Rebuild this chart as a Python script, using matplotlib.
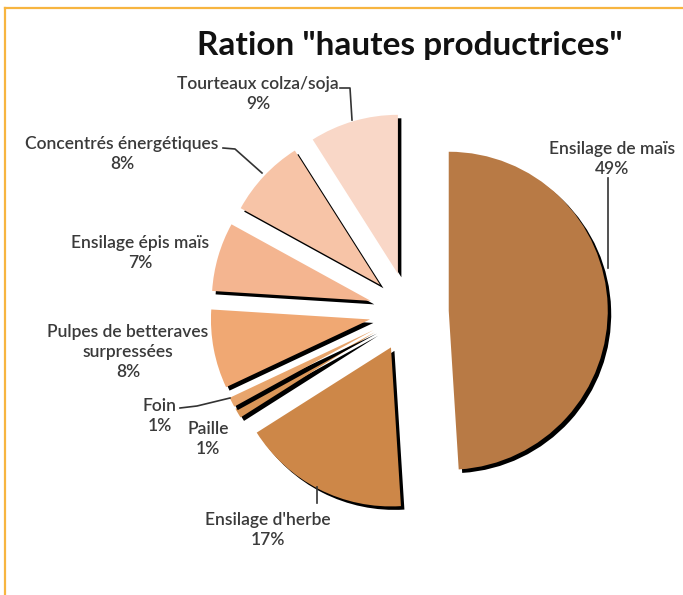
import matplotlib
matplotlib.use("Agg")
import matplotlib.pyplot as plt
import matplotlib.patheffects as pe
from matplotlib.lines import Line2D

# data
categories = ["Ensilage de maïs", "Ensilage d'herbe", "Paille", "Foin",
              "Pulpes de betteraves\nsurpressées", "Ensilage épis maïs",
              "Concentrés énergétiques", "Tourteaux colza/soja"]
values = [49, 17, 1, 1, 8, 7, 8, 9]
colors = ["#B87A45", "#CD8748", "#DA9658", "#E8A56C",
          "#F0A873", "#F4B590", "#F7C4A7", "#F9D7C7"]

W, H = 683, 595
fig = plt.figure(figsize=(W / 100, H / 100), dpi=100)
ax = fig.add_axes([0, 0, 1, 1])

shadow = [pe.withSimplePatchShadow(offset=(2.5, -2.5), shadow_rgbFace="black", alpha=1.0)]
wedges, _ = ax.pie(values, colors=colors, startangle=90, counterclock=False,
                   explode=[0.25] * len(values), radius=1,
                   wedgeprops=dict(linewidth=0, path_effects=shadow))

# pie centre and radius in pixels
cx, cy, rad = 409, 312, 159
ax.set_aspect("equal")
ax.set_xlim(-cx / rad, (W - cx) / rad)
ax.set_ylim((cy - H) / rad, cy / rad)
ax.axis("off")

# frame (orange border top and left)
fig.add_artist(Line2D([5 / W, 1], [1 - 8 / H, 1 - 8 / H], color="#F7B540", lw=1.6))
fig.add_artist(Line2D([5 / W, 5 / W], [0, 1 - 8 / H], color="#F7B540", lw=1.6))


def px(x, y):
    return x / W, 1 - y / H


fig.text(*px(410, 45), 'Ration "hautes productrices"', ha="center", va="center",
         fontsize=24, fontweight="bold", family="Lato", color="#111111")

txt = dict(ha="center", va="center", fontsize=12.5, fontweight="semibold",
           family="Lato", color="#3a3a3a", linespacing=1.3)

# label positions (pixel centres of text blocks)
label_pos = [(612, 159), (268, 530), (208, 439), (160, 416),
             (128, 352), (140, 253), (122, 154), (258, 94)]
for name, v, (x, y) in zip(categories, values, label_pos):
    fig.text(*px(x, y), f"{name}\n{v}%", **txt)

# leader lines
leaders = [
    [(608, 178), (608, 268)],
    [(317, 487), (317, 503)],
    [(180, 408), (197, 406), (230, 398)],
    [(223, 148), (235, 149), (262, 173)],
    [(340, 88), (350, 88), (352, 120)],
]
for pts in leaders:
    xs = [p[0] / W for p in pts]
    ys = [1 - p[1] / H for p in pts]
    fig.add_artist(Line2D(xs, ys, color="#333333", lw=1.2))

fig.savefig("out.png", dpi=100)
